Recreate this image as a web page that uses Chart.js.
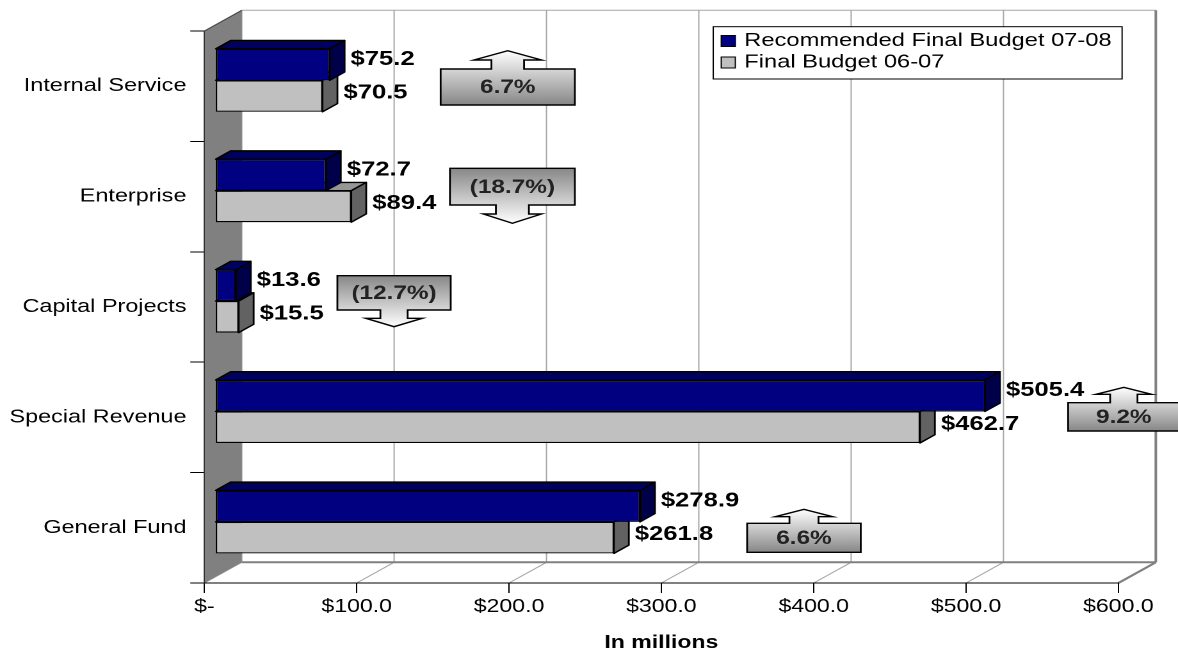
<!DOCTYPE html>
<html>
<head>
<meta charset="utf-8">
<script src="https://cdn.jsdelivr.net/npm/chart.js@4.4.0/dist/chart.umd.min.js"></script>
<style>
  html, body { margin:0; padding:0; background:#fff; overflow:hidden; }
</style>
</head>
<body>
<canvas id="chart" width="920" height="654" style="width:1178px;height:654px"></canvas>
<script>
const categories = ['Internal Service', 'Enterprise', 'Capital Projects', 'Special Revenue', 'General Fund'];
const budget0708 = [75.2, 72.7, 13.6, 505.4, 278.9];
const budget0607 = [70.5, 89.4, 15.5, 462.7, 261.8];
const changeLabels = ['6.7%', '(18.7%)', '(12.7%)', '9.2%', '6.6%'];
const changeUp = [true, false, false, true, true];
const tickLabels = ['$-', '$100.0', '$200.0', '$300.0', '$400.0', '$500.0', '$600.0'];
const seriesNames = ['Recommended Final Budget 07-08', 'Final Budget 06-07'];

// the old excel picture is stretched sideways, so draw narrow and let css widen it
const SX = 1.28;
const FONT = '"Liberation Sans", Arial, sans-serif';
const DEPTH = {x: 37.4 / SX, y: -20.7};   // full floor depth
const BAR_FRONT = 0.286, BAR_DEPTH = 0.4; // bars sit in the middle of the depth

// callout boxes: x in axis units, y in px from the category centre
const callouts = [
  {x1: 155.1, x2: 243.2, y1: -17.2, y2: 18.8, headW: 53, shaftW: 25.5, shaft: 9, head: 9.3},
  {x1: 161.2, x2: 243.2, y1: -28.3, y2: 8.4, headW: 45.5, shaftW: 25.8, shaft: 9, head: 9.3},
  {x1: 87.3, x2: 161.7, y1: -31.3, y2: 3, headW: 44.2, shaftW: 21.3, shaft: 8.3, head: 8.4},
  {x1: 567.0, x2: 640.1, y1: -14.7, y2: 13.6, headW: 43.5, shaftW: 21.3, shaft: 8.4, head: 7},
  {x1: 356.3, x2: 430.9, y1: -4.5, y2: 24.5, headW: 45, shaftW: 22.7, shaft: 6.6, head: 7.4}
];

const faceColors = [
  {front: '#000080', top: '#00005e', side: '#00004a'},
  {front: '#c0c0c0', top: '#969696', side: '#626262'}
];

function poly(ctx, pts) {
  ctx.beginPath();
  ctx.moveTo(pts[0][0], pts[0][1]);
  for (let i = 1; i < pts.length; i++) ctx.lineTo(pts[i][0], pts[i][1]);
  ctx.closePath();
}
function line(ctx, x1, y1, x2, y2) {
  ctx.beginPath(); ctx.moveTo(x1, y1); ctx.lineTo(x2, y2); ctx.stroke();
}

const threeD = {
  id: 'threeD',
  beforeDraw(chart) {
    const {ctx, chartArea: a, scales: {x}} = chart;
    const dx = DEPTH.x, dy = DEPTH.y;
    const x0 = x.getPixelForValue(0), x1 = x.getPixelForValue(600);
    ctx.save();
    ctx.strokeStyle = '#a6a6a6'; ctx.lineWidth = 1;
    x.ticks.forEach(t => {
      const px = x.getPixelForValue(t.value);
      line(ctx, px + dx, a.top + dy, px + dx, a.bottom + dy);
      line(ctx, px, a.bottom, px + dx, a.bottom + dy);
    });
    line(ctx, x0 + dx, a.top + dy, x1 + dx, a.top + dy);
    ctx.strokeStyle = '#808080'; ctx.lineWidth = 2;
    line(ctx, x0 + dx, a.bottom + dy, x1 + dx, a.bottom + dy);
    line(ctx, x1 + dx, a.top + dy, x1 + dx, a.bottom + dy);
    line(ctx, x1, a.bottom, x1 + dx, a.bottom + dy);
    // left wall
    ctx.fillStyle = '#808080';
    poly(ctx, [[x0, a.top], [x0 + dx, a.top + dy], [x0 + dx, a.bottom + dy], [x0, a.bottom]]);
    ctx.fill();
    ctx.strokeStyle = '#404040'; ctx.lineWidth = 1;
    line(ctx, x0, a.top, x0 + dx, a.top + dy);
    ctx.restore();
  },
  beforeDatasetsDraw(chart) {
    chart.ctx.save();
    chart.ctx.translate(DEPTH.x * BAR_FRONT, DEPTH.y * BAR_FRONT);
  },
  beforeDatasetDraw(chart, args) {
    const ctx = chart.ctx;
    const c = faceColors[args.index];
    const ddx = DEPTH.x * BAR_DEPTH, ddy = DEPTH.y * BAR_DEPTH;
    ctx.save();
    ctx.strokeStyle = '#000'; ctx.lineWidth = 1.4; ctx.lineJoin = 'round';
    args.meta.data.forEach(bar => {
      const {x, y, base, height} = bar.getProps(['x', 'y', 'base', 'height'], true);
      const top = y - height / 2, bottom = y + height / 2;
      ctx.fillStyle = c.top;
      poly(ctx, [[base, top], [x, top], [x + ddx, top + ddy], [base + ddx, top + ddy]]);
      ctx.fill(); ctx.stroke();
      ctx.fillStyle = c.side;
      poly(ctx, [[x, top], [x + ddx, top + ddy], [x + ddx, bottom + ddy], [x, bottom]]);
      ctx.fill(); ctx.stroke();
    });
    ctx.restore();
  },
  afterDatasetsDraw(chart) {
    const ctx = chart.ctx;
    const ddx = DEPTH.x * BAR_DEPTH;
    ctx.fillStyle = '#000';
    ctx.font = 'bold 20px ' + FONT;
    ctx.textAlign = 'left'; ctx.textBaseline = 'middle';
    chart.data.datasets.forEach((ds, i) => {
      chart.getDatasetMeta(i).data.forEach((bar, j) => {
        const {x, y} = bar.getProps(['x', 'y'], true);
        ctx.fillText('$' + ds.data[j].toFixed(1), x + ddx + 6 / SX, y + (i === 0 ? -5 : -3));
      });
    });
    ctx.restore();
  },
  afterDraw(chart) {
    const {ctx, scales: {x, y}} = chart;
    ctx.save();
    // change callouts
    callouts.forEach((c, i) => {
      const cy = y.getPixelForValue(i);
      const bx1 = x.getPixelForValue(c.x1), bx2 = x.getPixelForValue(c.x2);
      const by1 = cy + c.y1, by2 = cy + c.y2;
      const cx = (bx1 + bx2) / 2;
      const hw = c.headW / 2, sw = c.shaftW / 2;
      let pts, g;
      if (changeUp[i]) {
        const b = by1 - c.shaft, tip = b - c.head;
        pts = [[bx1, by1], [cx - sw, by1], [cx - sw, b], [cx - hw, b], [cx, tip], [cx + hw, b],
               [cx + sw, b], [cx + sw, by1], [bx2, by1], [bx2, by2], [bx1, by2]];
        g = ctx.createLinearGradient(0, by2, 0, tip);
      } else {
        const b = by2 + c.shaft, tip = b + c.head;
        pts = [[bx1, by1], [bx2, by1], [bx2, by2], [cx + sw, by2], [cx + sw, b], [cx + hw, b],
               [cx, tip], [cx - hw, b], [cx - sw, b], [cx - sw, by2], [bx1, by2]];
        g = ctx.createLinearGradient(0, by1, 0, tip);
      }
      g.addColorStop(0, '#878787');
      g.addColorStop(1, '#ffffff');
      ctx.fillStyle = g;
      ctx.strokeStyle = '#000'; ctx.lineWidth = 1.4; ctx.lineJoin = 'miter';
      poly(ctx, pts); ctx.fill(); ctx.stroke();
      ctx.fillStyle = '#222';
      ctx.font = 'bold 19px ' + FONT;
      ctx.textAlign = 'center'; ctx.textBaseline = 'middle';
      ctx.fillText(changeLabels[i], cx, (by1 + by2) / 2 + 1);
    });
    // legend
    const lx = 713 / SX, ly = 26.7, lw = (1121.7 - 713) / SX, lh = 52.3;
    ctx.fillStyle = '#fff'; ctx.fillRect(lx, ly, lw, lh);
    ctx.strokeStyle = '#000'; ctx.lineWidth = 1;
    ctx.strokeRect(lx, ly, lw, lh);
    ctx.font = '18.5px ' + FONT;
    ctx.textAlign = 'left'; ctx.textBaseline = 'middle';
    seriesNames.forEach((name, i) => {
      const ry = 41 + i * 21.5;
      ctx.fillStyle = faceColors[i].front;
      ctx.fillRect(721 / SX, ry - 5.5, 11, 11);
      ctx.strokeRect(721 / SX, ry - 5.5, 11, 11);
      ctx.fillStyle = '#000';
      ctx.fillText(name, 744 / SX, ry);
    });
    ctx.restore();
  }
};

new Chart(document.getElementById('chart').getContext('2d'), {
  type: 'bar',
  data: {
    labels: categories,
    datasets: [
      {label: seriesNames[0], data: budget0708, backgroundColor: faceColors[0].front,
       borderColor: '#000', borderWidth: 1.2, borderSkipped: false, clip: false},
      {label: seriesNames[1], data: budget0607, backgroundColor: faceColors[1].front,
       borderColor: '#000', borderWidth: 1.2, borderSkipped: false, clip: false}
    ]
  },
  options: {
    indexAxis: 'y',
    responsive: false,
    animation: false,
    devicePixelRatio: 2,
    layout: {padding: {left: 0, right: 920 - 1118 / SX, top: 31, bottom: 0}},
    datasets: {bar: {categoryPercentage: 0.571, barPercentage: 1}},
    plugins: {legend: {display: false}, tooltip: {enabled: false}},
    scales: {
      x: {
        min: 0, max: 600,
        afterFit: s => { s.height = 654 - 583; },
        ticks: {stepSize: 100, color: '#000', padding: 3, font: {family: FONT, size: 18},
                callback: (v, i) => tickLabels[i]},
        grid: {drawOnChartArea: false, tickLength: 10, color: '#000'},
        border: {color: '#000', width: 1},
        title: {display: true, text: 'In millions', color: '#000', padding: {top: 0, bottom: 0},
                font: {family: FONT, size: 18, weight: 'bold'}}
      },
      y: {
        afterFit: s => { s.width = 204.3 / SX; },
        ticks: {color: '#000', padding: 3, font: {family: FONT, size: 18.3}},
        grid: {drawOnChartArea: false, tickLength: 11, color: '#000', offset: true},
        border: {color: '#303030', width: 1}
      }
    }
  },
  plugins: [threeD]
});
</script>
</body>
</html>
